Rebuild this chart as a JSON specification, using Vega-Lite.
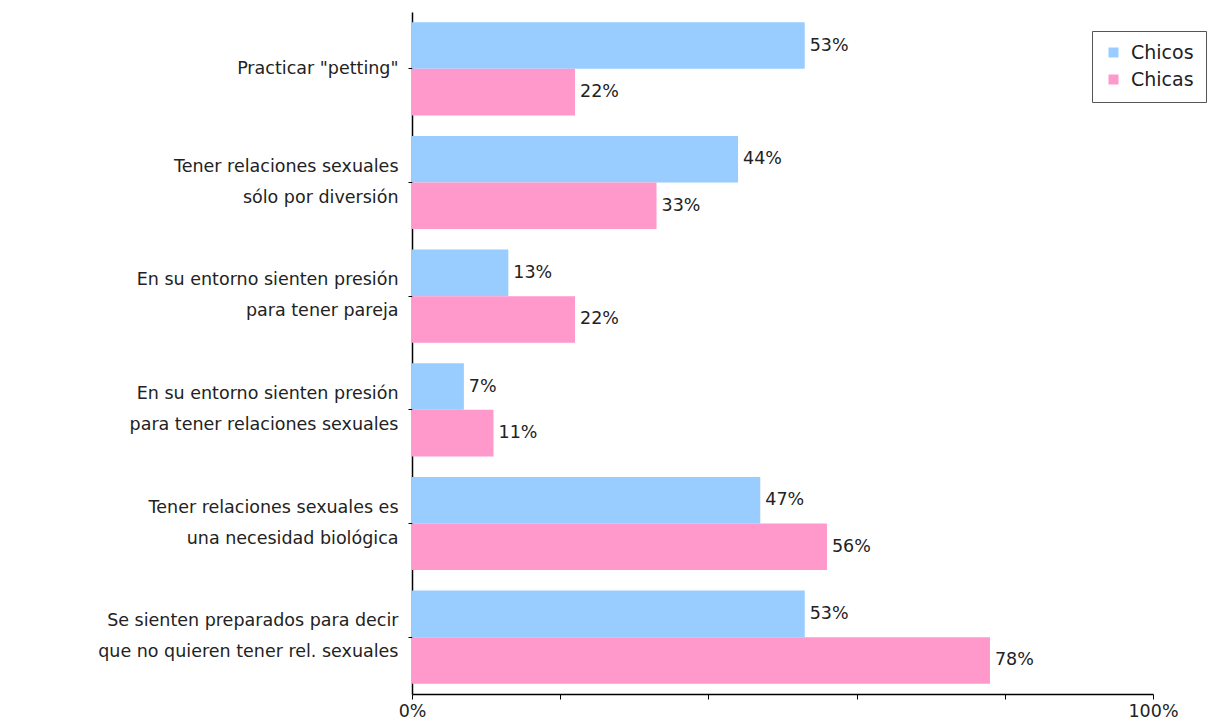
{
  "$schema": "https://vega.github.io/schema/vega-lite/v6.json",
  "autosize": "none",
  "width": 741,
  "height": 682,
  "padding": {"left": 412, "top": 12, "right": 55, "bottom": 25},
  "background": "white",
  "config": {
    "view": {"stroke": null},
    "font": "DejaVu Sans"
  },
  "data": {
    "values": [
      {"cat": "Practicar \"petting\"", "order": 1, "grupo": "Chicos", "v": 0.53},
      {"cat": "Practicar \"petting\"", "order": 1, "grupo": "Chicas", "v": 0.22},
      {"cat": "Tener relaciones sexuales|sólo por diversión", "order": 2, "grupo": "Chicos", "v": 0.44},
      {"cat": "Tener relaciones sexuales|sólo por diversión", "order": 2, "grupo": "Chicas", "v": 0.33},
      {"cat": "En su entorno sienten presión|para tener pareja", "order": 3, "grupo": "Chicos", "v": 0.13},
      {"cat": "En su entorno sienten presión|para tener pareja", "order": 3, "grupo": "Chicas", "v": 0.22},
      {"cat": "En su entorno sienten presión|para tener relaciones sexuales", "order": 4, "grupo": "Chicos", "v": 0.07},
      {"cat": "En su entorno sienten presión|para tener relaciones sexuales", "order": 4, "grupo": "Chicas", "v": 0.11},
      {"cat": "Tener relaciones sexuales es|una necesidad biológica", "order": 5, "grupo": "Chicos", "v": 0.47},
      {"cat": "Tener relaciones sexuales es|una necesidad biológica", "order": 5, "grupo": "Chicas", "v": 0.56},
      {"cat": "Se sienten preparados para decir|que no quieren tener rel. sexuales", "order": 6, "grupo": "Chicos", "v": 0.53},
      {"cat": "Se sienten preparados para decir|que no quieren tener rel. sexuales", "order": 6, "grupo": "Chicas", "v": 0.78}
    ]
  },
  "encoding": {
    "y": {
      "field": "cat",
      "type": "nominal",
      "sort": {"field": "order", "op": "min"},
      "scale": {"paddingInner": 0.18, "paddingOuter": 0.09},
      "axis": {
        "title": null,
        "labelExpr": "split(datum.label, '|')",
        "labelFontSize": 17.5,
        "labelColor": "#222",
        "labelLineHeight": 31,
        "labelOffset": {"expr": "indexof(datum.label, '|') >= 0 ? -16 : 0"},
        "labelPadding": 10,
        "tickSize": 4,
        "tickColor": "#000",
        "domainColor": "#000",
        "domainWidth": 1.5,
        "labelLimit": 500
      }
    },
    "yOffset": {"field": "grupo", "type": "nominal", "sort": ["Chicos", "Chicas"]},
    "x": {
      "field": "v",
      "type": "quantitative",
      "scale": {"domain": [0, 1], "nice": false},
      "axis": {
        "title": null,
        "values": [0, 0.2, 0.4, 0.6, 0.8, 1],
        "format": "%",
        "labelExpr": "datum.value == 0 || datum.value == 1 ? datum.label : ''",
        "labelFlush": false,
        "grid": false,
        "labelFontSize": 17.5,
        "labelColor": "#222",
        "tickSize": 5,
        "tickColor": "#000",
        "domainColor": "#000",
        "domainWidth": 1.5,
        "labelPadding": 3
      }
    }
  },
  "layer": [
    {
      "mark": {"type": "bar"},
      "encoding": {
        "color": {
          "field": "grupo",
          "type": "nominal",
          "sort": ["Chicos", "Chicas"],
          "scale": {"domain": ["Chicos", "Chicas"], "range": ["#99CCFF", "#FF99CC"]},
          "legend": {
            "title": null,
            "orient": "none",
            "legendX": 680,
            "legendY": 19,
            "symbolType": "square",
            "symbolSize": 100,
            "symbolStrokeWidth": 0,
            "labelFontSize": 19,
            "labelOffset": 8,
            "labelColor": "#222",
            "strokeColor": "#555",
            "padding": 12,
            "rowPadding": 7,
            "fillColor": "white"
          }
        }
      }
    },
    {
      "mark": {"type": "text", "align": "left", "baseline": "middle", "dx": 5, "fontSize": 17.5, "color": "#222"},
      "encoding": {
        "text": {"field": "v", "type": "quantitative", "format": ".0%"}
      }
    }
  ]
}
